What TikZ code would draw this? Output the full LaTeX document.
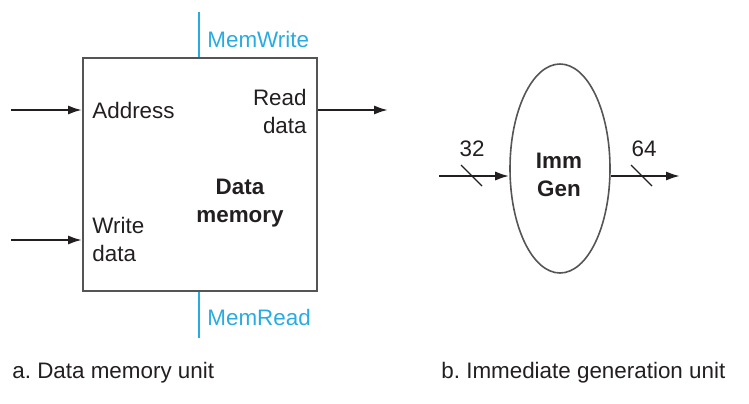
\documentclass[tikz,border=0pt]{standalone}
\usepackage{fontspec}
\setmainfont{Liberation Sans}
\usetikzlibrary{shapes.geometric,arrows.meta}
\definecolor{txt}{HTML}{231F20}
\definecolor{ctl}{HTML}{29ABE2}
\definecolor{edge}{HTML}{555555}
\frenchspacing
\begin{document}
\begin{tikzpicture}[x=0.5pt,y=-0.5pt,
  lbl/.style={font=\fontsize{11.2}{14}\selectfont, text=txt, inner sep=0pt},
  blbl/.style={font=\fontsize{11.2}{14}\selectfont\bfseries, text=txt, inner sep=0pt, align=center},
  ctllbl/.style={font=\fontsize{11.2}{14}\selectfont, text=ctl, inner sep=0pt, anchor=west},
  arr/.style={line width=1.1pt, draw=txt, -{Latex[length=7pt,width=4.6pt]}},
  ctlline/.style={line width=0.7pt, draw=ctl},
  slashln/.style={line width=0.6pt, draw=txt}]
\useasboundingbox (0,0) rectangle (749,403);
% Data memory
\node[draw=edge, line width=1pt, rectangle, minimum width=117pt, minimum height=116.5pt, inner sep=0pt] (mem) at (200,174.5) {};
\coordinate (mwtop) at (199,12);
\coordinate (mrbot) at (199,338);
\draw[ctlline] (mwtop) -- (mwtop |- mem.north);
\draw[ctlline] (mrbot |- mem.south) -- (mrbot);
\node[ctllbl] (mwl) at (207,39) {MemWrite};
\node[ctllbl] (mrl) at (207,317) {MemRead};
\coordinate (addrin) at (11,110);
\coordinate (wdin) at (11,240);
\coordinate (rdout) at (388,110);
\draw[arr] (addrin) -- (addrin -| mem.west);
\draw[arr] (wdin) -- (wdin -| mem.west);
\draw[arr] (rdout -| mem.east) -- (rdout);
\node[lbl, anchor=west] (addr) at (92,110) {Address};
\node[lbl, anchor=east, align=right] (rd) at (307,111) {Read\\data};
\node[lbl, anchor=west, align=left] (wd) at (92,239.5) {Write\\data};
\node[blbl] (dm) at (240,203.5) {Data\\memory};
\node[lbl, anchor=west] (capa) at (12,373) {a. Data memory unit};
% Imm Gen
\node[draw=edge, line width=0.8pt, ellipse, minimum width=50pt, minimum height=104.5pt, inner sep=0pt] (gen) at (560,168.5) {};
\node[blbl] (gent) at (559,174.5) {Imm\\Gen};
\coordinate (genin) at (439,176);
\coordinate (genout) at (680,176);
\draw[arr] (genin) -- (genin -| gen.west);
\draw[arr] (genout -| gen.east) -- (genout);
\coordinate (s1a) at (461,165);
\coordinate (s1b) at (482,186);
\coordinate (s2a) at (631,165);
\coordinate (s2b) at (652,186);
\draw[slashln] (s1a) -- (s1b);
\draw[slashln] (s2a) -- (s2b);
\node[lbl] (w32) at (472,149) {32};
\node[lbl] (w64) at (644,149) {64};
\node[lbl, anchor=west] (capb) at (441,373) {b. Immediate generation unit};
\end{tikzpicture}
\end{document}
